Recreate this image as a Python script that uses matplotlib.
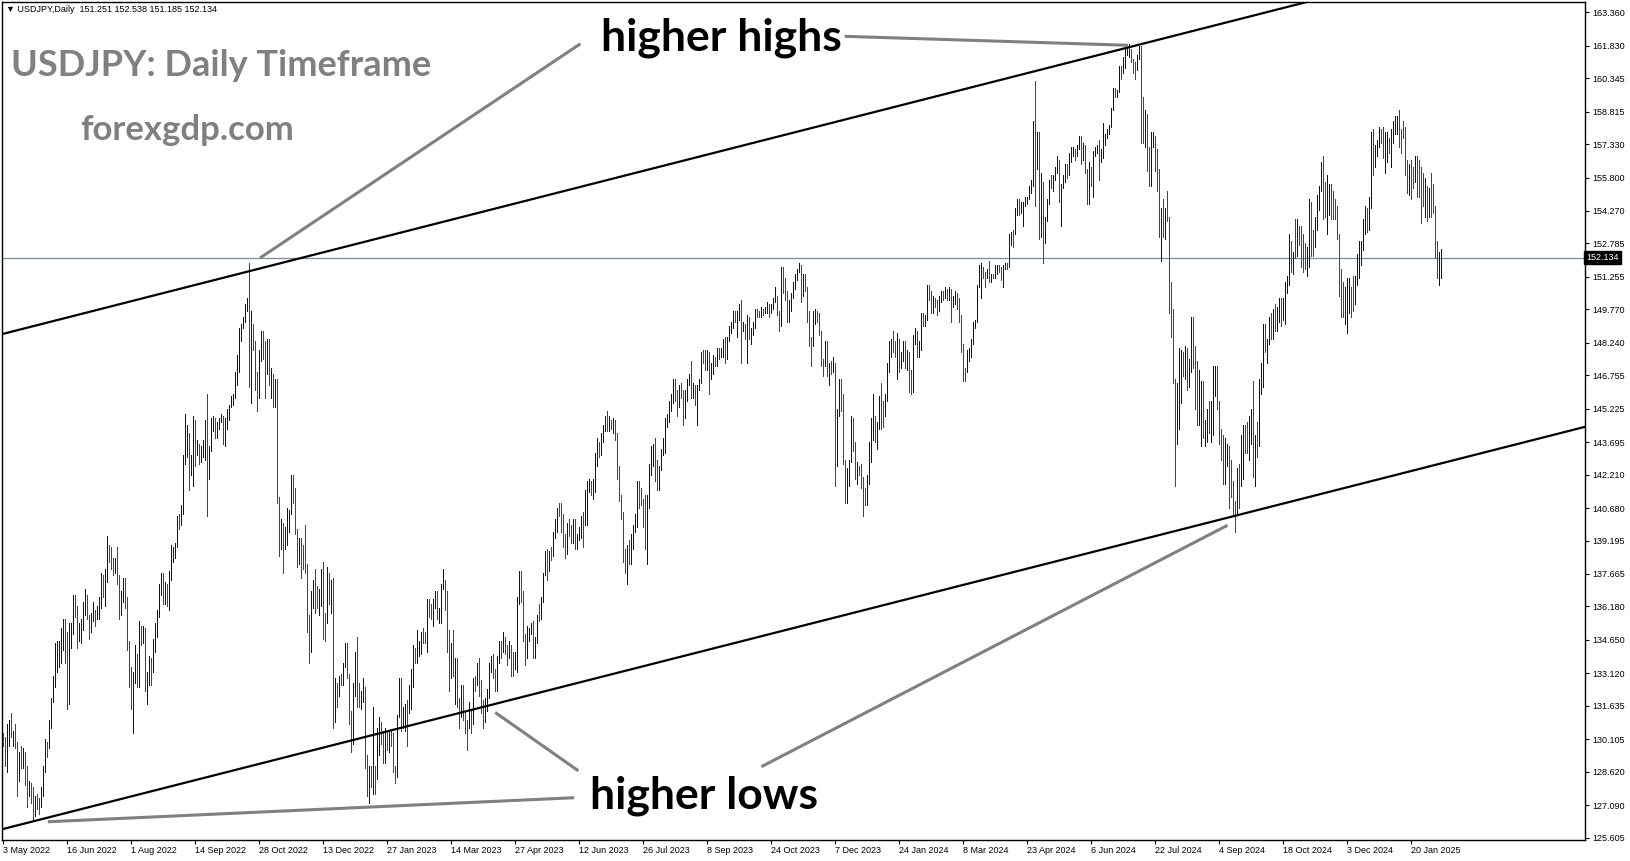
import numpy as np
import matplotlib.pyplot as plt

# USDJPY daily bars, 3 May 2022 .. 10 Feb 2025, one line per week (holiday bars skipped)
first_open = 130.2
closes = [
    130.1, 129.1, 130.2, 130.6,
    130.3, 130.4, 129.9, 128.3, 129.2,
    129.2, 129.4, 128.2, 127.8, 127.9,
    127.9, 126.8, 127.3, 127.1, 127.1,
    127.6, 128.7, 129.9, 129.9, 130.9,
    131.9, 132.6, 134.2, 134.3, 134.4,
    134.5, 135.4, 134.0, 132.2, 135.0,
    135.1, 136.6, 136.2, 134.9, 135.2,
    135.4, 136.1, 136.6, 135.7, 135.2,
    135.7, 135.9, 135.8, 136.0, 136.1,
    137.4, 137.0, 137.4, 138.9, 138.6,
    138.2, 138.1, 138.2, 137.4, 136.1,
    136.7, 137.0, 136.6, 134.3, 133.3,
    131.6, 133.1, 133.8, 133.0, 135.0,
    134.9, 135.0, 132.9, 133.0, 133.5,
    133.3, 134.2, 135.1, 135.9, 137.0,
    137.5, 136.8, 137.2, 136.6, 137.7,
    138.7, 138.8, 139.0, 140.2, 140.1,
    140.5, 142.7, 144.0, 144.1, 142.6,
    142.8, 144.6, 143.2, 143.5, 142.9,
    143.2, 143.7, 144.1, 142.4, 143.3,
    144.7, 144.8, 144.2, 144.5, 144.7,
    144.8, 144.1, 144.6, 145.1, 145.3,
    145.7, 145.8, 146.9, 147.2, 148.7,
    149.0, 149.3, 149.9, 150.1, 147.6,
    149.0, 148.0, 146.4, 146.3, 147.5,
    148.7, 148.2, 147.9, 148.3, 146.6,
    146.7, 145.6, 146.4, 141.0, 138.8,
    139.9, 139.3, 139.5, 140.2, 140.4,
    142.1, 141.2, 139.6, 138.6, 139.2,
    138.9, 138.7, 138.1, 135.3, 134.3,
    136.7, 137.0, 136.6, 136.5, 136.6,
    137.7, 135.6, 135.5, 137.7, 136.7,
    136.9, 131.7, 132.4, 132.3, 132.9,
    132.8, 133.5, 134.5, 133.0, 131.1,
    131.0, 132.4, 133.4, 132.1,
    131.9, 132.3, 132.4, 129.2, 127.9,
    128.5, 128.1, 128.9, 128.4, 129.6,
    130.7, 130.2, 129.2, 130.2, 129.9,
    130.4, 130.1, 128.9, 128.7, 131.2,
    132.6, 131.1, 131.4, 131.5, 131.4,
    132.4, 133.1, 134.1, 133.9, 134.2,
    134.3, 134.9, 134.8, 134.7, 136.4,
    136.2, 136.1, 136.2, 136.7, 135.8,
    135.9, 137.2, 137.4, 136.1, 135.0,
    133.2, 134.2, 133.3, 133.7, 131.8,
    131.3, 132.5, 131.4, 130.8, 130.7,
    131.4, 130.9, 132.9, 132.7, 132.8,
    132.4, 131.7, 131.3, 131.8, 132.2,
    133.6, 133.7, 133.1, 132.6, 133.8,
    134.5, 134.1, 134.7, 134.2, 134.1,
    134.3, 133.7, 133.6, 133.9, 136.3,
    137.5, 136.6, 134.7, 134.3, 134.8,
    135.1, 135.2, 134.4, 134.5, 135.7,
    135.6, 136.4, 137.6, 138.7, 137.9,
    138.6, 138.5, 139.5, 140.1, 140.6,
    140.4, 140.2, 139.3, 138.8, 139.9,
    139.6, 139.5, 140.1, 139.0, 139.4,
    139.5, 140.2, 140.0, 140.3, 141.8,
    141.9, 141.4, 141.8, 143.1, 143.7,
    143.5, 143.9, 144.4, 144.8, 144.3,
    144.7, 144.5, 144.7, 144.1, 142.1,
    141.3, 140.4, 138.5, 138.1, 138.8,
    138.7, 139.4, 139.7, 140.1, 141.8,
    141.5, 140.9, 140.3, 139.5, 141.2,
    142.3, 143.3, 143.4, 142.6, 141.8,
    142.5, 143.4, 143.7, 144.7, 144.9,
    145.5, 145.6, 146.4, 145.8, 145.4,
    146.2, 145.9, 144.8, 145.8, 146.4,
    146.5, 145.9, 146.2, 145.5, 146.2,
    146.5, 147.7, 147.6, 147.3, 147.8,
    146.6, 147.1, 147.5, 147.4, 147.9,
    147.6, 147.9, 148.3, 147.6, 148.4,
    148.9, 149.1, 149.6, 149.3, 149.4,
    149.9, 149.0, 149.1, 148.5, 149.3,
    148.5, 148.7, 149.1, 149.8, 149.6,
    149.5, 149.8, 149.7, 149.8, 149.9,
    149.7, 149.9, 150.2, 150.4, 149.6,
    149.1, 151.7, 150.9, 150.5, 149.4,
    150.0, 150.4, 150.9, 151.4, 151.5,
    151.7, 150.4, 151.4, 150.7, 149.6,
    148.4, 148.3, 149.5, 149.6, 149.4,
    148.7, 147.4, 147.2, 148.2, 146.8,
    147.2, 147.1, 147.3, 144.1, 144.9,
    146.2, 145.4, 142.9, 141.9, 142.2,
    142.8, 144.8, 143.5, 142.1, 142.4,
    142.3, 142.1, 141.4, 141.0,
    142.0, 143.3, 144.6, 144.7,
    144.2, 144.4, 145.7, 145.3, 144.9,
    145.7, 147.2, 148.1, 148.2, 148.1,
    148.0, 148.4, 147.5, 147.7, 148.2,
    147.4, 147.6, 146.9, 146.4, 148.4,
    148.7, 147.9, 148.0, 149.3, 149.2,
    149.4, 150.8, 150.6, 149.9, 150.2,
    150.0, 149.9, 150.3, 150.5, 150.4,
    150.7, 150.5, 150.6, 150.0, 150.1,
    150.5, 150.0, 149.4, 148.0, 147.1,
    146.9, 147.7, 147.8, 148.3, 149.1,
    149.2, 150.8, 151.2, 151.6, 151.4,
    151.3, 151.5, 151.3, 151.4, 151.3,
    151.6, 151.7, 151.6, 151.3, 151.6,
    151.8, 151.7, 153.2, 153.3, 153.2,
    154.2, 154.7, 154.4, 154.6, 154.7,
    154.8, 154.9, 155.3, 155.6, 158.3,
    156.4, 157.8, 155.0, 155.5, 153.0,
    153.9, 154.7, 155.6, 155.5, 155.8,
    156.2, 156.4, 154.9, 155.4, 155.7,
    156.3, 156.2, 156.8, 157.0, 157.1,
    156.9, 157.2, 157.6, 156.8, 157.3,
    156.1, 154.8, 156.1, 155.6, 156.8,
    157.1, 157.2, 156.6, 157.0, 157.4,
    157.7, 157.9, 158.1, 158.9, 159.8,
    159.7, 159.8, 160.8, 160.7, 160.9,
    161.5, 161.6, 161.7, 161.2, 160.8,
    160.7, 161.3, 161.6, 159.0, 157.9,
    158.2, 156.8, 156.2, 157.4, 157.5,
    157.0, 156.1, 153.9, 154.0, 153.8,
    154.0, 153.9, 150.0, 149.4, 146.5,
    144.2, 144.3, 146.7, 147.2, 146.8,
    147.2, 146.9, 147.3, 149.3, 147.6,
    146.0, 145.2, 145.3, 146.3, 144.4,
    144.5, 144.6, 144.3, 145.0, 146.2,
    146.9, 145.5, 143.7, 143.4, 142.3,
    143.1, 143.4, 142.4, 141.8, 140.8,
    140.6, 142.3, 142.2, 142.6, 143.9,
    143.6, 143.2, 144.8, 144.9, 142.2,
    143.6, 143.5, 146.5, 146.9, 148.7,
    148.2, 148.3, 149.3, 148.6, 149.1,
    149.0, 149.2, 149.6, 149.4, 149.5,
    150.9, 151.1, 152.7, 151.8, 152.3,
    152.2, 153.4, 153.3, 152.0, 151.9,
    151.8, 151.9, 154.6, 152.9, 152.6,
    153.7, 154.6, 155.3, 156.3, 154.3,
    154.1, 154.6, 155.4, 154.5, 154.4,
    154.2, 153.1, 151.1, 149.8, 149.7,
    149.8, 149.9, 150.6, 150.1, 150.0,
    151.2, 151.9, 152.5, 152.7, 153.6,
    154.1, 153.5, 154.7, 157.4, 156.4,
    157.2, 157.3, 157.9, 157.7,
    156.9, 157.2, 157.5, 157.2,
    157.7, 158.1, 158.3, 158.5, 158.0,
    157.9, 157.7, 156.5, 155.2, 156.3,
    155.9, 155.6, 156.6, 156.1, 155.9,
    154.9, 154.7, 155.4, 154.3, 155.2,
    154.6, 154.4, 152.6, 151.3, 151.4,
    152.134,
]
highs = [
    130.4, 130.2, 130.8, 131.0,
    131.3, 130.5, 130.8, 130.0, 129.5,
    129.8, 129.7, 129.5, 128.9, 128.2,
    128.1, 127.9, 127.5, 127.6, 127.4,
    127.9, 128.9, 130.1, 130.0, 131.0,
    132.0, 133.0, 134.5, 134.6, 134.6,
    135.2, 135.6, 135.6, 135.0, 135.4,
    135.4, 136.7, 136.7, 136.2, 135.4,
    135.6, 136.4, 137.0, 136.7, 135.8,
    135.9, 136.4, 136.0, 136.2, 136.6,
    137.7, 137.6, 137.9, 139.4, 139.0,
    138.9, 138.4, 138.4, 138.9, 137.6,
    136.9, 137.5, 137.5, 136.6, 134.6,
    133.4, 133.2, 134.4, 134.0, 135.5,
    135.3, 135.3, 135.2, 133.2, 133.9,
    133.8, 134.7, 135.4, 136.0, 137.2,
    137.7, 137.7, 137.3, 137.0, 137.8,
    139.0, 138.9, 139.1, 140.3, 140.4,
    140.8, 143.1, 145.0, 144.5, 144.0,
    143.1, 144.9, 144.7, 143.8, 143.6,
    143.5, 143.8, 144.7, 145.9, 143.5,
    144.8, 144.9, 144.8, 144.6, 144.8,
    145.0, 144.9, 144.8, 145.2, 145.4,
    145.8, 145.9, 146.9, 147.7, 148.9,
    149.1, 149.4, 150.0, 150.3, 151.9,
    149.7, 149.1, 148.3, 146.9, 147.9,
    148.8, 148.8, 148.3, 148.4, 148.4,
    147.1, 146.8, 146.6, 146.6, 141.2,
    140.2, 140.0, 139.8, 140.7, 140.6,
    142.2, 142.2, 141.6, 139.7, 139.3,
    139.3, 139.0, 139.9, 138.1, 135.8,
    136.9, 137.4, 137.9, 137.1, 137.0,
    137.9, 138.2, 135.9, 138.0, 137.5,
    137.4, 137.5, 132.9, 132.7, 133.0,
    133.1, 133.6, 134.5, 134.3, 133.1,
    131.4, 132.7, 134.1, 134.8,
    132.7, 132.3, 132.9, 132.5, 129.4,
    128.9, 128.9, 131.6, 128.9, 130.6,
    131.1, 130.9, 130.4, 130.6, 130.5,
    130.5, 130.5, 130.4, 128.9, 131.2,
    132.9, 132.9, 131.6, 131.7, 131.9,
    132.6, 133.3, 134.4, 134.3, 135.1,
    134.6, 135.0, 135.2, 135.0, 136.5,
    136.5, 136.3, 136.5, 136.9, 136.9,
    136.1, 137.2, 137.9, 137.3, 136.9,
    135.1, 134.5, 135.1, 133.8, 133.8,
    132.0, 132.6, 132.6, 131.3, 131.0,
    131.8, 131.5, 132.9, 133.0, 133.6,
    133.8, 132.8, 131.9, 132.0, 132.4,
    133.6, 133.9, 134.0, 133.3, 133.9,
    134.6, 134.6, 135.0, 134.8, 134.4,
    134.6, 134.4, 134.1, 134.1, 136.6,
    137.8, 137.8, 136.9, 134.9, 135.3,
    135.2, 135.4, 135.5, 134.8, 135.8,
    136.3, 136.6, 137.7, 138.7, 138.8,
    138.7, 138.9, 139.6, 140.2, 140.7,
    140.9, 140.9, 140.4, 139.5, 140.0,
    140.2, 139.9, 140.2, 140.2, 139.5,
    139.8, 140.3, 140.5, 141.5, 141.9,
    142.0, 141.9, 142.0, 143.2, 143.9,
    143.7, 144.1, 144.5, 144.9, 145.1,
    144.9, 144.7, 144.8, 144.7, 144.1,
    142.6, 141.3, 140.5, 138.8, 139.0,
    139.2, 139.5, 139.9, 140.4, 141.9,
    141.9, 141.6, 141.1, 141.3, 141.3,
    142.7, 143.5, 143.6, 143.9, 142.9,
    142.6, 143.4, 143.9, 144.8, 145.0,
    145.6, 145.9, 146.6, 146.6, 146.1,
    146.3, 146.4, 146.1, 146.1, 146.6,
    146.8, 147.4, 146.4, 146.3, 146.3,
    146.6, 147.8, 147.9, 147.9, 147.9,
    147.6, 147.3, 147.7, 147.6, 148.0,
    148.0, 148.0, 148.4, 148.5, 148.5,
    149.0, 149.2, 149.7, 149.7, 149.7,
    150.0, 150.2, 149.2, 149.1, 149.5,
    149.4, 148.9, 149.2, 149.8, 149.8,
    149.7, 149.9, 149.8, 149.9, 150.1,
    150.0, 150.0, 150.3, 150.8, 150.4,
    149.7, 151.7, 151.7, 151.2, 150.6,
    150.2, 150.5, 151.0, 151.4, 151.6,
    151.9, 151.8, 151.4, 151.4, 150.8,
    149.7, 148.5, 149.7, 149.8, 149.7,
    149.6, 148.8, 147.5, 148.3, 148.3,
    147.3, 147.4, 147.6, 147.3, 145.2,
    146.6, 146.6, 145.9, 142.9, 142.5,
    142.9, 144.9, 144.0, 143.7, 142.8,
    142.6, 142.7, 141.8, 141.6,
    142.2, 143.7, 144.8, 145.9,
    144.9, 144.6, 145.8, 146.4, 145.6,
    145.9, 147.3, 148.3, 148.4, 148.8,
    148.3, 148.7, 148.2, 147.8, 148.3,
    148.3, 147.9, 147.8, 147.0, 148.6,
    148.9, 148.8, 148.3, 149.6, 149.6,
    149.5, 150.9, 150.9, 150.6, 150.4,
    150.3, 150.2, 150.4, 150.6, 150.6,
    150.8, 150.7, 150.8, 150.7, 150.4,
    150.6, 150.5, 150.3, 149.5, 148.2,
    147.1, 147.9, 148.0, 148.4, 149.2,
    149.3, 150.9, 151.8, 151.9, 151.7,
    151.5, 151.6, 152.0, 151.4, 151.4,
    151.8, 151.8, 151.8, 151.7, 151.8,
    151.9, 151.9, 153.2, 153.3, 153.4,
    154.4, 154.8, 154.8, 154.7, 154.7,
    154.9, 154.9, 155.4, 155.7, 158.4,
    160.2, 157.9, 157.9, 156.0, 155.6,
    154.0, 154.8, 155.7, 155.9, 155.9,
    156.3, 156.8, 156.6, 155.5, 155.9,
    156.4, 156.4, 156.9, 157.2, 157.2,
    157.1, 157.3, 157.7, 157.7, 157.4,
    157.3, 156.2, 156.5, 156.3, 157.0,
    157.2, 157.3, 157.5, 157.1, 158.3,
    157.8, 158.0, 158.2, 159.0, 159.9,
    159.9, 159.8, 160.9, 160.9, 161.3,
    161.7, 161.8, 161.9, 161.7, 161.2,
    161.1, 161.4, 161.8, 161.8, 159.5,
    158.9, 158.7, 157.2, 157.9, 157.9,
    157.7, 157.1, 156.2, 154.4, 154.8,
    154.4, 155.2, 154.0, 151.0, 149.8,
    146.6, 146.4, 148.0, 147.9, 147.8,
    148.1, 148.0, 147.5, 149.4, 149.4,
    148.1, 147.4, 147.0, 146.5, 146.5,
    144.7, 145.2, 145.6, 145.6, 147.2,
    147.2, 147.2, 145.6, 144.3, 144.0,
    143.9, 143.6, 143.5, 142.9, 141.9,
    141.0, 142.5, 142.7, 144.0, 144.5,
    144.5, 144.6, 144.9, 145.2, 146.5,
    144.0, 144.6, 146.6, 147.3, 149.1,
    149.1, 148.4, 149.4, 149.6, 149.8,
    150.0, 149.9, 150.3, 150.3, 150.3,
    151.0, 151.3, 153.2, 152.9, 152.4,
    153.9, 153.9, 153.6, 153.6, 153.2,
    152.8, 152.6, 154.8, 154.7, 153.4,
    154.0, 155.0, 155.4, 156.5, 156.8,
    155.6, 155.9, 155.5, 155.5, 155.2,
    154.8, 154.5, 153.2, 151.6, 151.0,
    150.8, 151.2, 151.2, 150.8, 151.3,
    151.3, 152.3, 152.9, 152.9, 153.9,
    154.5, 154.4, 154.9, 157.9, 158.0,
    157.3, 157.5, 158.1, 158.0,
    158.1, 157.9, 157.9, 157.6,
    158.0, 158.4, 158.6, 158.6, 158.9,
    158.0, 158.4, 158.1, 156.6, 156.4,
    156.6, 156.3, 156.8, 156.8, 156.6,
    156.3, 156.0, 155.8, 155.4, 155.3,
    156.0, 155.5, 154.5, 152.9, 152.4,
    152.538,
]
lows = [
    129.8, 128.9, 128.6, 129.8,
    130.2, 129.8, 129.7, 127.5, 128.2,
    128.8, 128.8, 128.0, 127.0, 127.5,
    127.2, 126.4, 126.6, 126.9, 126.7,
    127.0, 127.5, 128.6, 129.3, 129.7,
    130.6, 131.8, 132.5, 133.2, 133.4,
    133.6, 134.2, 133.6, 131.5, 131.7,
    134.3, 134.9, 135.7, 134.3, 134.6,
    134.5, 135.1, 135.8, 135.6, 134.7,
    135.0, 135.5, 135.3, 135.6, 135.6,
    136.1, 136.6, 136.2, 137.3, 138.2,
    137.9, 137.6, 137.7, 137.2, 135.6,
    135.8, 136.4, 136.1, 134.2, 132.5,
    131.5, 130.4, 132.7, 132.5, 132.5,
    134.4, 134.5, 132.3, 131.7, 132.6,
    132.6, 133.2, 134.1, 134.8, 135.7,
    136.7, 136.3, 136.3, 136.2, 136.0,
    137.4, 138.2, 138.4, 138.9, 139.7,
    139.9, 140.4, 142.8, 143.0, 141.5,
    142.2, 141.7, 142.6, 143.1, 142.7,
    142.8, 143.0, 142.9, 140.3, 142.0,
    143.3, 144.2, 143.9, 143.9, 144.3,
    144.6, 143.6, 143.5, 144.3, 144.7,
    145.3, 145.4, 145.7, 146.3, 146.9,
    148.3, 148.9, 149.2, 149.7, 146.2,
    145.5, 147.9, 146.1, 145.1, 145.7,
    147.4, 147.5, 145.7, 146.8, 146.3,
    145.7, 145.3, 145.3, 140.9, 138.5,
    138.8, 137.7, 138.8, 139.0, 139.6,
    140.4, 140.9, 139.5, 138.0, 138.1,
    137.5, 137.9, 137.7, 135.0, 133.6,
    134.1, 136.1, 135.9, 136.1, 135.8,
    136.2, 134.7, 134.6, 135.4, 136.3,
    135.9, 130.6, 130.9, 131.6, 132.1,
    132.6, 132.6, 133.4, 132.9, 130.8,
    129.5, 129.9, 132.1, 131.6,
    131.6, 131.5, 131.8, 128.8, 127.5,
    127.2, 127.9, 127.6, 127.6, 128.3,
    129.4, 129.9, 129.0, 129.0, 129.6,
    129.5, 129.8, 128.6, 128.1, 128.4,
    131.1, 130.5, 130.6, 130.5, 129.8,
    131.3, 131.5, 132.5, 133.6, 133.6,
    133.9, 134.0, 134.5, 134.5, 134.1,
    135.7, 135.6, 135.3, 136.1, 135.6,
    135.4, 135.4, 137.0, 136.0, 134.1,
    132.3, 132.9, 133.0, 131.7, 131.6,
    130.6, 131.1, 131.0, 130.4, 129.6,
    130.6, 130.4, 130.8, 132.3, 132.6,
    132.1, 131.3, 130.6, 130.9, 131.4,
    132.0, 133.2, 132.9, 132.3, 132.3,
    133.6, 133.8, 134.1, 134.0, 133.5,
    133.8, 133.0, 133.0, 133.3, 133.2,
    136.3, 136.4, 134.6, 133.5, 133.8,
    134.6, 134.9, 133.8, 133.8, 134.6,
    135.5, 135.8, 136.4, 137.6, 137.4,
    137.8, 138.3, 138.5, 139.3, 139.6,
    140.3, 139.6, 138.9, 138.4, 138.6,
    139.4, 139.1, 139.1, 138.8, 138.8,
    139.2, 139.3, 138.9, 139.9, 139.9,
    141.4, 141.3, 141.1, 141.4, 142.6,
    143.0, 143.1, 143.7, 144.2, 144.2,
    144.2, 144.3, 144.1, 143.8, 142.0,
    141.0, 140.2, 138.2, 137.7, 137.2,
    138.1, 138.1, 138.8, 139.6, 139.8,
    140.7, 140.8, 139.8, 138.8, 138.1,
    140.7, 142.2, 142.6, 141.9, 141.5,
    141.5, 142.4, 143.1, 143.2, 144.4,
    144.6, 145.1, 145.5, 145.6, 144.9,
    145.3, 145.7, 144.5, 144.8, 145.6,
    146.3, 145.7, 145.7, 145.4, 144.5,
    146.1, 146.4, 147.3, 147.0, 147.0,
    145.9, 146.6, 146.8, 147.2, 147.2,
    147.5, 147.6, 147.6, 147.3, 147.5,
    148.3, 148.7, 148.9, 149.2, 148.5,
    149.3, 147.3, 148.8, 148.4, 147.3,
    148.4, 148.2, 148.6, 148.9, 149.4,
    149.4, 149.4, 149.5, 149.6, 149.6,
    149.4, 149.6, 149.8, 150.1, 149.5,
    148.8, 149.0, 150.5, 150.2, 149.2,
    149.2, 149.7, 150.3, 150.7, 151.1,
    151.5, 150.1, 150.4, 150.6, 149.2,
    148.1, 147.2, 148.1, 149.1, 149.2,
    148.6, 147.2, 146.7, 147.2, 146.7,
    146.3, 146.8, 146.9, 141.7, 142.6,
    144.9, 145.1, 142.7, 140.9, 140.9,
    141.7, 142.8, 143.3, 142.0, 141.8,
    142.2, 141.6, 140.3, 140.8,
    140.8, 141.8, 142.8, 143.8,
    143.7, 143.4, 144.3, 144.3, 144.4,
    144.9, 145.6, 146.9, 147.6, 147.8,
    147.6, 146.6, 146.9, 147.1, 147.4,
    147.1, 147.0, 146.0, 145.9, 146.0,
    148.2, 147.6, 147.6, 147.9, 149.0,
    149.0, 149.3, 150.2, 149.6, 149.6,
    149.9, 149.5, 149.7, 150.1, 150.2,
    150.3, 150.2, 150.2, 149.2, 149.9,
    150.0, 149.8, 149.2, 147.8, 146.5,
    146.5, 146.9, 147.4, 147.6, 148.2,
    148.9, 149.2, 150.8, 150.3, 151.2,
    150.8, 151.2, 151.0, 151.0, 151.2,
    151.2, 151.4, 151.5, 151.1, 150.8,
    151.6, 151.6, 151.7, 152.7, 152.6,
    153.2, 154.1, 154.1, 154.2, 153.6,
    154.5, 154.6, 154.8, 155.1, 155.4,
    154.5, 156.2, 153.0, 153.1, 151.9,
    152.8, 153.8, 154.6, 155.3, 155.2,
    155.7, 156.0, 154.7, 153.6, 155.3,
    155.6, 155.8, 155.9, 156.5, 156.8,
    156.6, 156.8, 157.1, 156.4, 156.6,
    156.0, 154.6, 154.6, 155.4, 154.9,
    156.8, 156.9, 155.7, 156.5, 156.7,
    157.3, 157.6, 157.8, 158.1, 158.9,
    159.5, 159.5, 159.7, 160.3, 160.6,
    160.8, 161.4, 161.3, 161.1, 160.6,
    160.3, 160.7, 161.2, 157.4, 157.4,
    157.2, 156.1, 155.4, 155.4, 157.2,
    156.1, 155.2, 153.1, 152.0, 153.1,
    153.0, 153.8, 149.6, 148.5, 146.4,
    141.7, 143.6, 144.3, 145.5, 146.7,
    146.6, 146.1, 146.2, 146.9, 147.1,
    145.2, 144.5, 144.5, 143.5, 143.9,
    143.5, 143.7, 144.1, 143.7, 144.0,
    145.8, 145.2, 143.6, 142.9, 141.8,
    141.8, 142.6, 140.7, 141.2, 140.3,
    139.6, 140.4, 140.7, 141.7, 142.0,
    143.2, 143.2, 142.9, 143.6, 142.1,
    141.7, 143.0, 143.5, 145.9, 146.2,
    147.8, 147.3, 148.2, 148.4, 148.4,
    148.8, 148.8, 149.3, 149.0, 149.3,
    149.1, 150.5, 150.9, 151.5, 151.4,
    152.1, 152.8, 152.7, 151.7, 151.5,
    151.6, 151.3, 151.7, 152.2, 152.2,
    152.6, 153.4, 154.3, 155.2, 153.9,
    154.0, 153.2, 154.1, 153.9, 153.9,
    153.9, 153.0, 150.4, 149.4, 149.4,
    149.1, 148.7, 149.6, 149.4, 149.7,
    150.7, 150.9, 151.2, 151.8, 152.5,
    153.2, 153.3, 153.4, 154.4, 155.9,
    156.3, 156.8, 157.2, 157.4,
    156.7, 156.0, 156.5, 156.9,
    156.3, 157.4, 157.8, 157.8, 157.2,
    156.9, 157.6, 155.9, 155.1, 155.0,
    154.8, 155.3, 155.6, 154.9, 154.9,
    153.7, 154.5, 154.0, 153.8, 154.0,
    154.0, 154.2, 152.1, 151.2, 150.9,
    151.185,
]

date_labels = ['3 May 2022', '16 Jun 2022', '1 Aug 2022', '14 Sep 2022', '28 Oct 2022',
               '13 Dec 2022', '27 Jan 2023', '14 Mar 2023', '27 Apr 2023', '12 Jun 2023',
               '26 Jul 2023', '8 Sep 2023', '24 Oct 2023', '7 Dec 2023', '24 Jan 2024',
               '8 Mar 2024', '23 Apr 2024', '6 Jun 2024', '22 Jul 2024', '4 Sep 2024',
               '18 Oct 2024', '3 Dec 2024', '20 Jan 2025']
label_every = 32
price_ticks = [163.360, 161.830, 160.345, 158.815, 157.330, 155.800, 154.270, 152.785,
               151.255, 149.770, 148.240, 146.755, 145.225, 143.695, 142.210, 140.680,
               139.195, 137.665, 136.180, 134.650, 133.120, 131.635, 130.105, 128.620,
               127.090, 125.605]
last_price = 152.134
header = '\u25bc USDJPY,Daily  151.251 152.538 151.185 152.134'

# channel lines (bar index, price) and the grey pointer lines
upper_channel = [(0.05, 148.65), (649.7, 163.78)]
lower_channel = [(0.05, 126.00), (791.6, 144.41)]
pointers = [
    [(128.5, 152.12), (288.7, 161.92)],
    [(420.8, 162.26), (562.5, 161.85)],
    [(246.1, 131.33), (287.7, 128.66)],
    [(379.2, 128.85), (612.2, 139.89)],
    [(22.4, 126.33), (285.6, 127.43)],
]

assert len(closes) == len(highs) == len(lows) == 720

W, H = 1631, 861
fig = plt.figure(figsize=(W / 100, H / 100), dpi=100)
ax = fig.add_axes([2 / W, 21 / H, 1583 / W, 838 / H])
ax.set_xlim(-0.5, 791)
ax.set_ylim(125.496, 163.83)

c = np.array(closes)
o = np.r_[first_open, c[:-1]]
hi = np.maximum(np.array(highs), np.maximum(o, c))
lo = np.minimum(np.array(lows), np.minimum(o, c))
x = np.arange(len(c))
cols = np.where(c > o, '#0000c8', '#e60000')
ax.vlines(x, lo, hi, colors=cols, lw=0.72, antialiased=False, zorder=3)

ax.axhline(last_price, color='#7f8894', lw=0.9, zorder=2)
ax.axline(*upper_channel, color='black', lw=1.6, zorder=4)
ax.axline(*lower_channel, color='black', lw=1.6, zorder=4)
for (x0, y0), (x1, y1) in pointers:
    ax.plot([x0, x1], [y0, y1], color='#808080', lw=2.2, solid_capstyle='butt', zorder=4)

# axes: price scale on the right, dates along the bottom
for s in ax.spines.values():
    s.set_linewidth(1.0)
ax.yaxis.tick_right()
ax.set_yticks(price_ticks)
ax.set_yticklabels([f'{v:.3f}' for v in price_ticks])
ax.set_xticks(np.arange(len(date_labels)) * label_every)
ax.set_xticklabels(date_labels, ha='left')
ax.tick_params(axis='both', length=3, width=0.8, labelsize=6.5, pad=1.5,
               labelfontfamily='Liberation Sans')
ax.tick_params(axis='y', pad=2)

ax.text(1.0008, last_price, f'{last_price:.3f}', transform=ax.get_yaxis_transform(),
        color='white', fontsize=6.5, family='Liberation Sans', va='center', ha='left',
        bbox=dict(boxstyle='square,pad=0.25', fc='black', ec='black'), clip_on=False)

fig.text(6 / W, 1 - 10 / H, header, fontsize=6.5, va='center',
         family=['Liberation Sans', 'DejaVu Sans'])
fig.text(11 / W, 1 - 76 / H, 'USDJPY: Daily Timeframe', fontsize=26, fontweight='bold',
         family='Lato', color='#808080', va='baseline')
fig.text(80 / W, 1 - 140 / H, 'forexgdp.com', fontsize=25, fontweight='bold',
         family='Lato', color='#808080', va='baseline')
fig.text(601 / W, 1 - 50 / H, 'higher highs', fontsize=32, fontweight='bold',
         family='Lato', color='black', va='baseline')
fig.text(590 / W, 1 - 809 / H, 'higher lows', fontsize=32, fontweight='bold',
         family='Lato', color='black', va='baseline')

fig.savefig('out.png', dpi=100, facecolor='white')
